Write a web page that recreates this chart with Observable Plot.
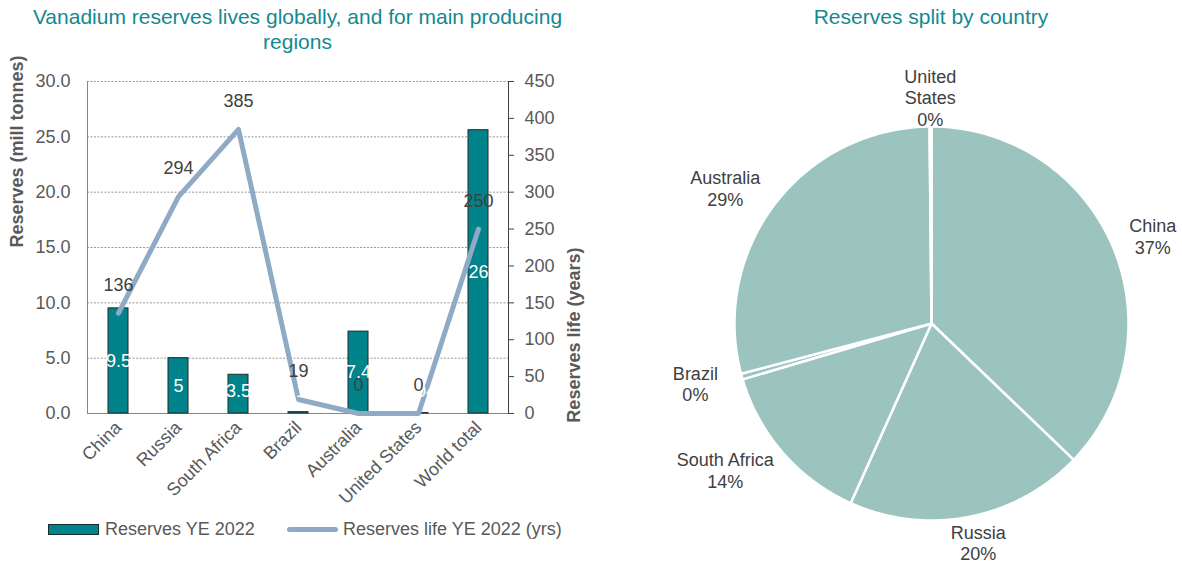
<!DOCTYPE html>
<html><head><meta charset="utf-8">
<script src="https://cdn.jsdelivr.net/npm/d3@7"></script>
<script src="https://cdn.jsdelivr.net/npm/@observablehq/plot@0.6"></script>
<style>
body{margin:0;background:#fff;font-family:"Liberation Sans",Arial,sans-serif;}
#wrap{position:relative;width:1182px;height:574px;overflow:hidden;}
.title{position:absolute;top:4px;color:#13898f;font-size:21px;line-height:25px;text-align:center;}
#left,#right{position:absolute;top:0;}
#left{left:0;} #right{left:640px;}
.leg{position:absolute;top:519px;height:20px;display:flex;align-items:center;font-size:18px;color:#595959;white-space:nowrap;}
.sw1{width:49px;height:9px;background:#00838a;border:1px solid #1b2a2a;margin-right:6px;}
.sw2{width:51px;height:5px;background:#8eaac4;border-radius:3px;margin-right:5px;}
</style></head><body>
<div id="wrap">
<div id="left"></div><div id="right"></div>
<div class="title" style="left:0;width:595px">Vanadium reserves lives globally, and for main producing<br>regions</div>
<div class="title" style="left:680px;width:502px">Reserves split by country</div>
<div class="leg" style="left:48px"><div class="sw1"></div><span id="leg1"></span></div>
<div class="leg" style="left:287px"><div class="sw2"></div><span id="leg2"></span></div>
</div>
<script>
// ---- data ----
const categories = ["China", "Russia", "South Africa", "Brazil", "Australia", "United States", "World total"];
const reserves = [9.5, 5, 3.5, 0.12, 7.4, 0.04, 25.6];
const reserveLabels = ["9.5", "5", "3.5", "0.12", "7.4", "0.04", "26"];
const lifeYears = [136, 294, 385, 19, 0, 0, 250];
const leftTicks = [0, 5, 10, 15, 20, 25, 30];
const rightTicks = [0, 50, 100, 150, 200, 250, 300, 350, 400, 450];
const pieCountries = ["China", "Russia", "South Africa", "Brazil", "Australia", "United States"];
const pieNames = ["China", "Russia", "South Africa", "Brazil", "Australia", "United\nStates"];
const pieValues = [9.5, 5, 3.5, 0.12, 7.4, 0.04];
const seriesNames = ["Reserves YE 2022", "Reserves life YE 2022 (yrs)"];
const axisTitles = ["Reserves (mill tonnes)", "Reserves life (years)"];

document.getElementById("leg1").textContent = seriesNames[0];
document.getElementById("leg2").textContent = seriesNames[1];

const FONT = "'Liberation Sans', Arial, sans-serif";
const k = leftTicks[leftTicks.length - 1] / rightTicks[rightTicks.length - 1];
const minLabelY = 2; // bar labels are kept inside the plot area
const rows = categories.map((c, i) => ({cat: c, res: reserves[i], lab: reserveLabels[i], life: lifeYears[i], lifeS: lifeYears[i] * k}));

const left = Plot.plot({
  width: 600, height: 574,
  marginLeft: 87, marginRight: 92, marginTop: 81, marginBottom: 161,
  style: {fontFamily: FONT, fontSize: "18px", color: "#595959", background: "transparent", overflow: "visible"},
  x: {domain: categories, paddingInner: 0.667, paddingOuter: 0.333},
  y: {domain: [0, 30]},
  marks: [
    Plot.gridY(leftTicks, {stroke: "#999", strokeOpacity: 1, strokeDasharray: "2,1.5"}),
    Plot.frame({anchor: "left", stroke: "#868686"}),
    Plot.frame({anchor: "right", stroke: "#404040"}),
    Plot.ruleY([0], {stroke: "#868686"}),
    Plot.axisY(leftTicks, {anchor: "left", tickSize: 0, tickPadding: 17, tickFormat: d => d.toFixed(1), label: null, fill: "#595959"}),
    Plot.axisY(rightTicks.map(v => v * k), {anchor: "right", tickSize: 5, tickPadding: 11, tickFormat: d => String(Math.round(d / k)), label: null, fill: "#595959", stroke: "#404040"}),
    Plot.axisX({tickSize: 0, tickRotate: -45, tickPadding: 11, label: null, fill: "#595959"}),
    Plot.barY(rows, {x: "cat", y: "res", fill: "#00838a", stroke: "#1b2a2a", strokeWidth: 1}),
    Plot.line(rows, {x: "cat", y: "lifeS", stroke: "#8eaac4", strokeWidth: 5, strokeLinejoin: "round", strokeLinecap: "round"}),
    Plot.text(rows, {x: "cat", y: d => Math.max(d.res / 2, minLabelY), text: "lab", fill: "white"}),
    Plot.text(rows, {x: "cat", y: "lifeS", text: d => String(d.life), dy: -28, fill: "#404040"}),
    Plot.text([axisTitles[0]], {frameAnchor: "left", dx: -70, rotate: -90, fontWeight: "bold", fill: "#595959"}),
    Plot.text([axisTitles[1]], {frameAnchor: "right", dx: 66, rotate: -90, fontWeight: "bold", fill: "#595959"})
  ]
});
document.getElementById("left").appendChild(left);

// ---- pie ----
const arcs = d3.pie().sort(null).value(d => d)(pieValues);
const total = d3.sum(pieValues);
const slicePts = arcs.flatMap((a, i) => {
  const n = Math.max(2, Math.ceil((a.endAngle - a.startAngle) / 0.01));
  const pts = [{name: pieCountries[i], x: 0, y: 0}];
  for (let j = 0; j <= n; j++) {
    const t = a.startAngle + (a.endAngle - a.startAngle) * j / n;
    pts.push({name: pieCountries[i], x: Math.sin(t), y: Math.cos(t)});
  }
  return pts;
});
const R = 197;
const labels = arcs.map((a, i) => {
  const m = (a.startAngle + a.endAngle) / 2;
  const txt = pieNames[i] + "\n" + Math.round(pieValues[i] / total * 100) + "%";
  const lines = txt.split("\n");
  const w = d3.max(lines, l => l.length) * 9.5;
  const h = lines.length * 21;
  const s = Math.sin(m), c = Math.cos(m);
  const r0 = 1.1;
  return {txt, x: r0 * s + s * (w / 2) / R, y: r0 * c + c * 0.3 * (h / 2) / R};
});

const right = Plot.plot({
  width: 542, height: 574,
  marginLeft: 94, marginRight: 54, marginTop: 126, marginBottom: 54,
  style: {fontFamily: FONT, fontSize: "18px", background: "transparent", overflow: "visible"},
  x: {domain: [-1, 1], axis: null},
  y: {domain: [-1, 1], axis: null},
  marks: [
    Plot.line(slicePts, {x: "x", y: "y", z: "name", fill: "#9cc4bf", stroke: "white", strokeWidth: 2.5, curve: "linear-closed"}),
    Plot.text(labels, {x: "x", y: "y", text: "txt", fill: "#404040", lineHeight: 1.2})
  ]
});
document.getElementById("right").appendChild(right);
</script>
</body></html>
